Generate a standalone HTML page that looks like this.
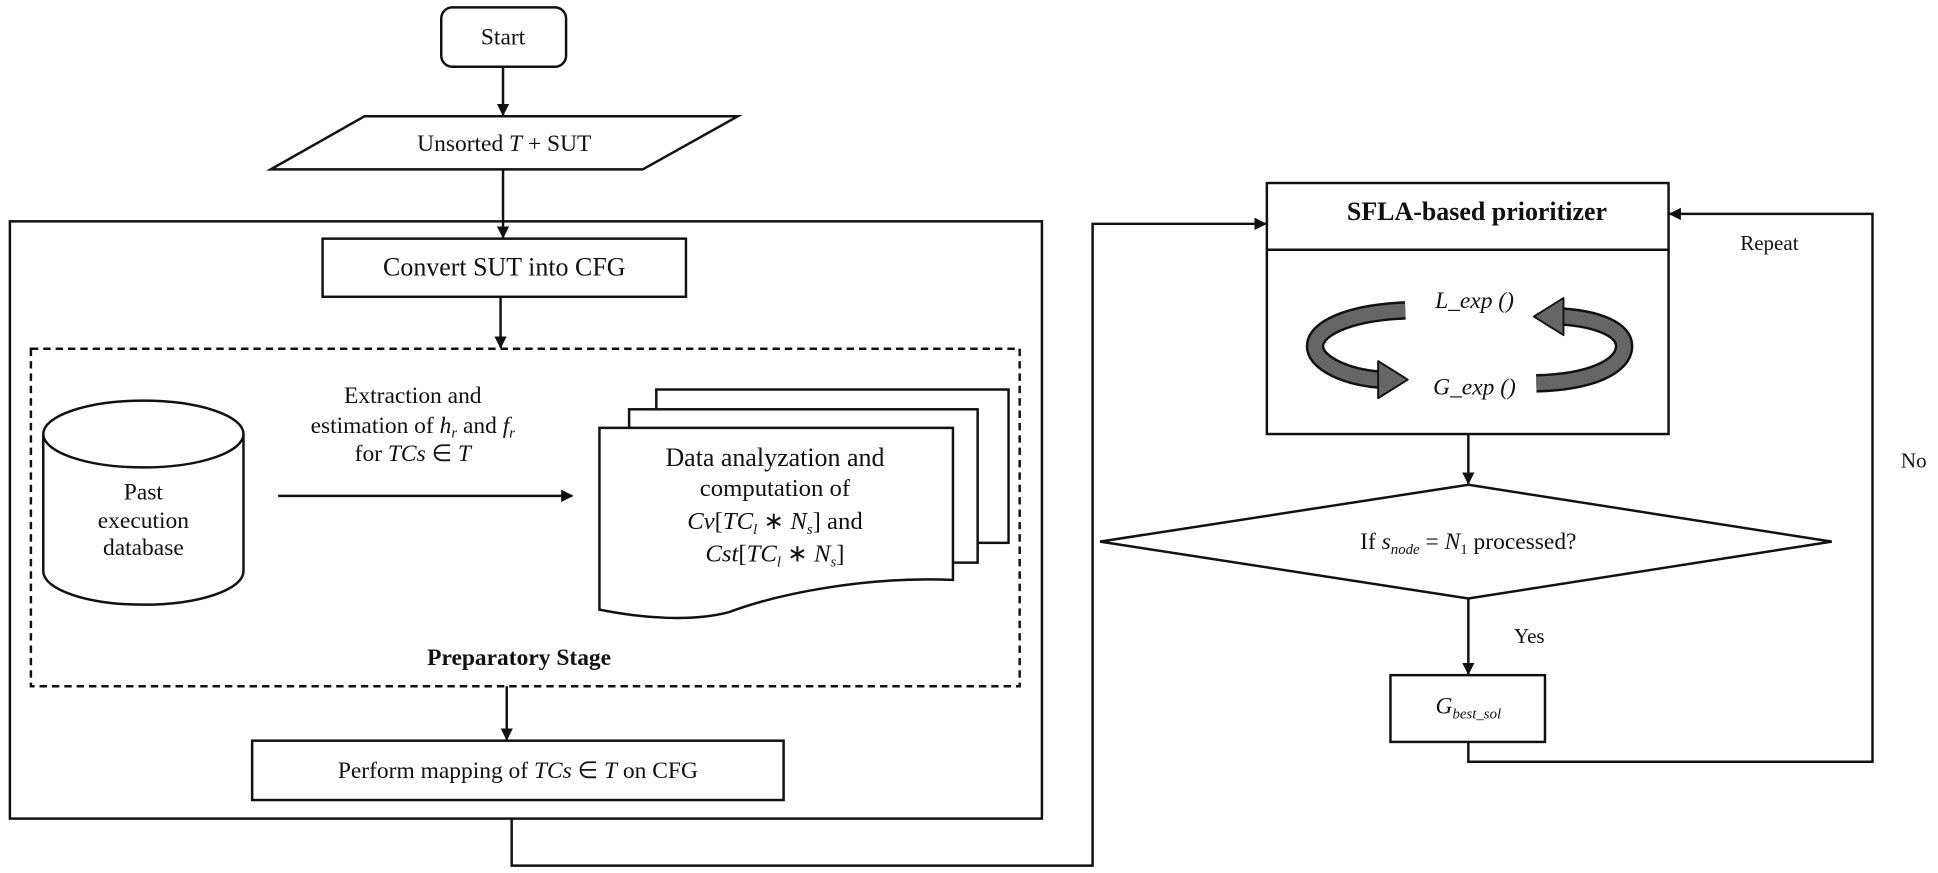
<!DOCTYPE html>
<html><head><meta charset="utf-8"><style>
html,body{margin:0;padding:0;background:#fff;}
svg{display:block;}
text{font-family:"Liberation Serif",serif;fill:#111;}
.it{font-style:italic;}
</style></head><body>
<svg width="1938" height="873" viewBox="0 0 1568 706" preserveAspectRatio="none" xmlns="http://www.w3.org/2000/svg">
<defs>
<marker id="ah" markerWidth="10" markerHeight="10" refX="9" refY="5" orient="auto" markerUnits="userSpaceOnUse">
<path d="M0,0 L10,5 L0,10 Z" fill="#111"/></marker>
</defs>
<g stroke="#111" stroke-width="2" fill="none">
<rect x="357" y="6" width="101" height="48" rx="9" fill="#fff"/>
<line x1="407" y1="54" x2="407" y2="93" marker-end="url(#ah)"/>
<polygon points="295,94 597,94 520,137 219,137" fill="#fff"/>
<line x1="407" y1="137" x2="407" y2="192" marker-end="url(#ah)"/>
<rect x="8" y="179" width="835" height="483"/>
<rect x="261" y="193" width="294" height="47" fill="#fff"/>
<line x1="405" y1="240" x2="405" y2="281" marker-end="url(#ah)"/>
<rect x="25" y="282" width="800" height="273" stroke-dasharray="6,4"/>
<path d="M35,351 L35,462 A81,27 0 0 0 197,462 L197,351" fill="#fff"/>
<ellipse cx="116" cy="351" rx="81" ry="27" fill="#fff"/>
<line x1="225" y1="401" x2="463" y2="401" marker-end="url(#ah)"/>
<rect x="531" y="315" width="285" height="124" fill="#fff"/>
<rect x="509" y="331" width="282" height="124" fill="#fff"/>
<path d="M485,346 L771,346 L771,469 C700,466 630,480 590,495 C560,503 520,500 485,493 Z" fill="#fff"/>
<line x1="410" y1="555" x2="410" y2="598" marker-end="url(#ah)"/>
<rect x="204" y="599" width="430" height="48" fill="#fff"/>
<polyline points="414,662 414,700 884,700 884,181 1024,181" marker-end="url(#ah)"/>
<rect x="1025" y="148" width="325" height="203" fill="#fff"/>
<line x1="1025" y1="202" x2="1350" y2="202"/>
<line x1="1188" y1="351" x2="1188" y2="391" marker-end="url(#ah)"/>
<polygon points="1188,392 1482,438 1188,484 890,438" fill="#fff"/>
<line x1="1188" y1="484" x2="1188" y2="545" marker-end="url(#ah)"/>
<rect x="1125" y="546" width="125" height="54" fill="#fff"/>
<polyline points="1188,600 1188,616 1515,616 1515,173 1351,173" marker-end="url(#ah)"/>
</g>
<g stroke-linejoin="round">
<path d="M1137,251 C1090,253 1064,266 1064,280 C1064,294 1090,305 1116,307" fill="none" stroke="#111" stroke-width="15"/>
<path d="M1137,251 C1090,253 1064,266 1064,280 C1064,294 1090,305 1116,307" fill="none" stroke="#666" stroke-width="11"/>
<polygon points="1115,292 1139,307 1115,322" fill="#666" stroke="#111" stroke-width="1.5"/>
<path d="M1243,310 C1288,309 1314,296 1314,280 C1314,266 1292,258 1264,256" fill="none" stroke="#111" stroke-width="15"/>
<path d="M1243,310 C1288,309 1314,296 1314,280 C1314,266 1292,258 1264,256" fill="none" stroke="#666" stroke-width="11"/>
<polygon points="1265,241 1241,256 1265,271" fill="#666" stroke="#111" stroke-width="1.5"/>
</g>
<g text-anchor="middle" font-size="19">
<text x="407" y="36">Start</text>
<text x="408" y="122">Unsorted <tspan class="it">T</tspan> + SUT</text>
<text x="408" y="223" font-size="21">Convert SUT into CFG</text>
<text x="334" y="326">Extraction and</text>
<text x="334" y="350">estimation of  <tspan class="it">h</tspan><tspan class="it" font-size="12" dy="4">r</tspan><tspan dy="-4"> and </tspan><tspan class="it">f</tspan><tspan class="it" font-size="12" dy="4">r</tspan></text>
<text x="334" y="373">for <tspan class="it">TCs</tspan> ∈ <tspan class="it">T</tspan></text>
<text x="116" y="404">Past</text>
<text x="116" y="427">execution</text>
<text x="116" y="449">database</text>
<text x="627" y="377" font-size="21">Data analyzation and</text>
<text x="627" y="401" font-size="20">computation of</text>
<text x="627" y="428" font-size="20"><tspan class="it">Cv</tspan>[<tspan class="it">TC</tspan><tspan class="it" font-size="12" dy="4">l</tspan><tspan dy="-4"> ∗ </tspan><tspan class="it">N</tspan><tspan class="it" font-size="12" dy="4">s</tspan><tspan dy="-4">] and</tspan></text>
<text x="627" y="454" font-size="20"><tspan class="it">Cst</tspan>[<tspan class="it">TC</tspan><tspan class="it" font-size="12" dy="4">l</tspan><tspan dy="-4"> ∗ </tspan><tspan class="it">N</tspan><tspan class="it" font-size="12" dy="4">s</tspan><tspan dy="-4">]</tspan></text>
<text x="420" y="538" font-weight="bold">Preparatory Stage</text>
<text x="419" y="629">Perform mapping of <tspan class="it">TCs</tspan> ∈ <tspan class="it">T</tspan> on CFG</text>
<text x="1195" y="178" font-weight="bold" font-size="21">SFLA-based prioritizer</text>
<text x="1193" y="249" class="it">L_exp ()</text>
<text x="1193" y="319" class="it">G_exp ()</text>
<text x="1188" y="444">If <tspan class="it">s</tspan><tspan class="it" font-size="12" dy="4">node</tspan><tspan dy="-4"> = </tspan><tspan class="it">N</tspan><tspan font-size="12" dy="4">1</tspan><tspan dy="-4"> processed?</tspan></text>
<text x="1188" y="577"><tspan class="it">G</tspan><tspan class="it" font-size="12" dy="4">best_sol</tspan></text>
</g>
<g font-size="17">
<text x="1225" y="520">Yes</text>
<text x="1538" y="378">No</text>
<text x="1408" y="202">Repeat</text>
</g>
</svg>
</body></html>
